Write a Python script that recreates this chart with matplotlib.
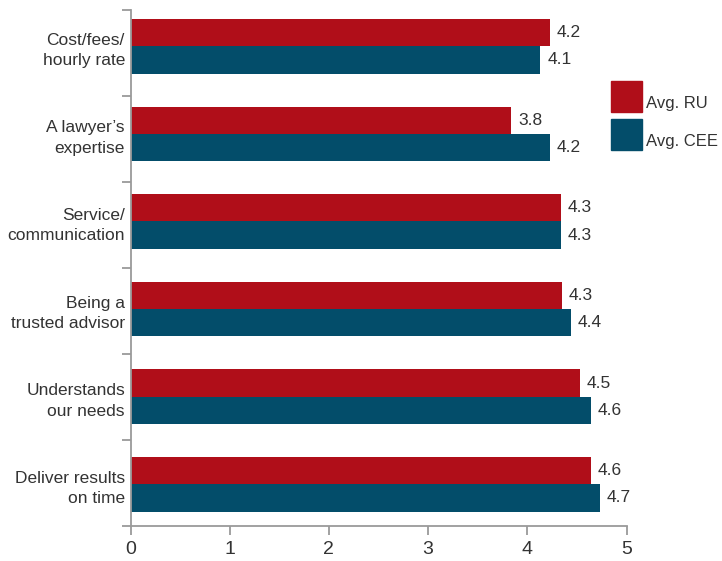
import matplotlib
matplotlib.use("Agg")
import matplotlib.pyplot as plt
import numpy as np
from matplotlib.patches import Rectangle
from matplotlib import font_manager

# Data
categories = ["Cost/fees/\nhourly rate", "A lawyer\u2019s\nexpertise", "Service/\ncommunication",
              "Being a\ntrusted advisor", "Understands\nour needs", "Deliver results\non time"]
avg_ru = [4.23, 3.84, 4.34, 4.35, 4.53, 4.64]
avg_cee = [4.13, 4.23, 4.34, 4.44, 4.64, 4.73]
series_names = ["Avg. RU", "Avg. CEE"]
x_ticks = [0, 1, 2, 3, 4, 5]

RED = "#B00E19"
BLUE = "#034D6A"
TEXT = "#333333"
AXIS = "#9A9A9A"

available = {f.name for f in font_manager.fontManager.ttflist}
family = [f for f in ["Liberation Sans Narrow", "Liberation Sans", "DejaVu Sans"] if f in available]
plt.rcParams["font.family"] = family
FS = 12.5

fig = plt.figure(figsize=(7.22, 5.61), dpi=100)
W, H = 722, 561
ax = fig.add_axes([130.5 / W, (H - 526) / H, 496 / W, 516 / H])

y = np.arange(len(categories))
h = 0.312
b1 = ax.barh(y - h / 2, avg_ru, height=h, color=RED, label=series_names[0])
b2 = ax.barh(y + h / 2, avg_cee, height=h, color=BLUE, label=series_names[1])
ax.bar_label(b1, labels=[f"{v:.1f}" for v in avg_ru], padding=5, fontsize=FS, color=TEXT)
ax.bar_label(b2, labels=[f"{v:.1f}" for v in avg_cee], padding=5, fontsize=FS, color=TEXT)

top, bottom = -0.414, 5.476
ax.set_ylim(bottom, top)
ax.set_xlim(0, 5)

# Group boundary ticks (unlabelled) and category labels at group centres
ax.set_yticks(np.linspace(top, bottom, len(categories) + 1))
ax.set_yticklabels([])
ax.set_yticks(y, minor=True)
ax.set_yticklabels(categories, minor=True, fontsize=FS, color=TEXT, linespacing=1.45)
ax.tick_params(axis="y", which="major", length=6.5, width=1.3, color=AXIS, direction="out")
ax.tick_params(axis="y", which="minor", length=0, pad=4)

ax.set_xticks(x_ticks)
ax.set_xticklabels([str(t) for t in x_ticks], fontsize=14, color=TEXT)
ax.tick_params(axis="x", length=6.5, width=1.3, color=AXIS, direction="out", pad=4)

for s in ["top", "right"]:
    ax.spines[s].set_visible(False)
for s in ["left", "bottom"]:
    ax.spines[s].set_color(AXIS)
    ax.spines[s].set_linewidth(1.3)

# Legend drawn as colour squares with labels
for i, (name, col) in enumerate(zip(series_names, [RED, BLUE])):
    y0 = 81 + i * 38
    fig.add_artist(Rectangle((611 / W, 1 - (y0 + 31) / H), 31 / W, 31 / H,
                             transform=fig.transFigure, color=col))
    fig.text(646 / W, 1 - (y0 + 27) / H, name, fontsize=12, color=TEXT, va="baseline")

fig.savefig("out.png", dpi=100)
